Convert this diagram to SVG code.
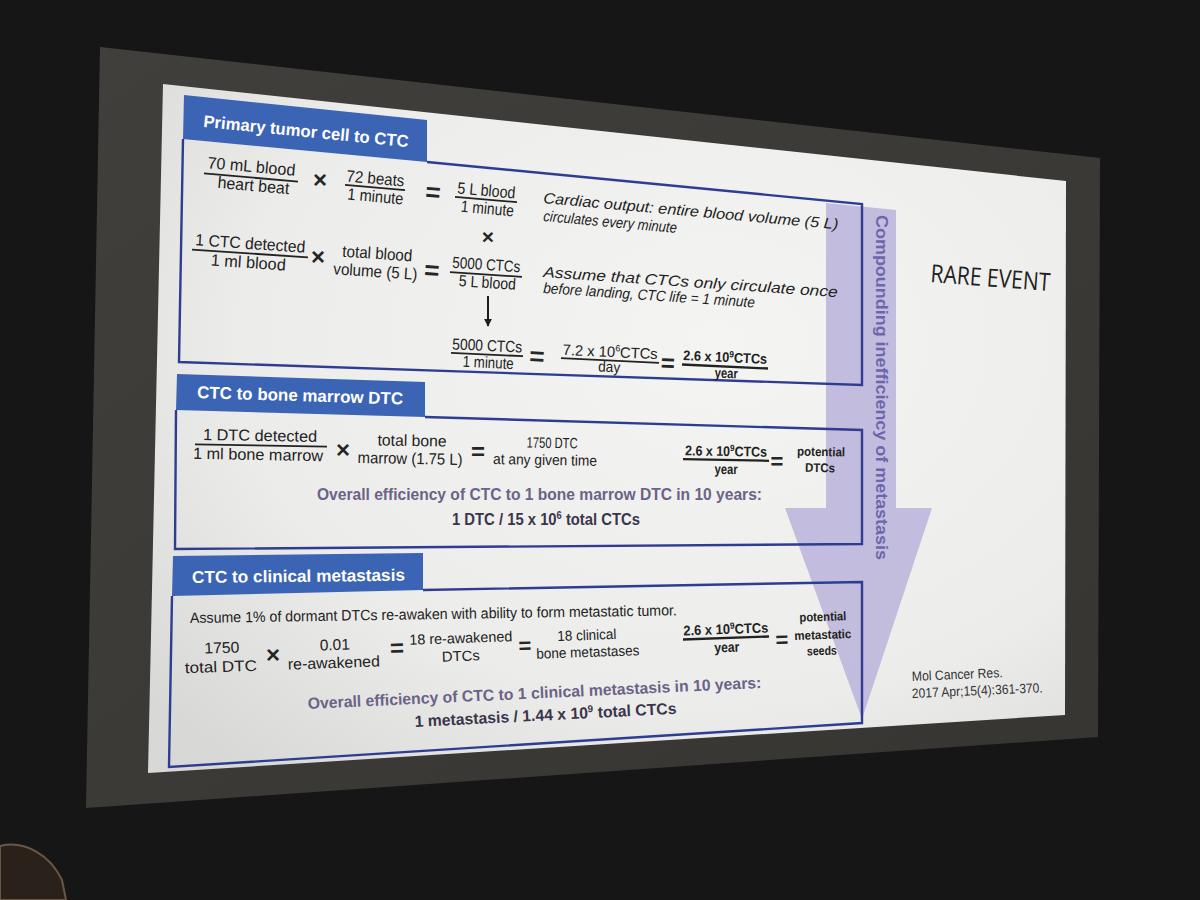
<svg xmlns="http://www.w3.org/2000/svg" width="1200" height="900" viewBox="0 0 1200 900">
<defs>
  <radialGradient id="slideG" cx="0.62" cy="0.38" r="0.8">
    <stop offset="0" stop-color="#f4f4f2"/>
    <stop offset="0.65" stop-color="#ececea"/>
    <stop offset="1" stop-color="#d8d8d7"/>
  </radialGradient>
  <linearGradient id="frameG" x1="0" y1="0" x2="1" y2="1">
    <stop offset="0" stop-color="#403f3c"/>
    <stop offset="1" stop-color="#363532"/>
  </linearGradient>
  <marker id="ah" viewBox="0 0 10 10" refX="9" refY="5" markerWidth="4" markerHeight="4" orient="auto">
    <path d="M0,0 L10,5 L0,10 Z" fill="#1e1e1e"/>
  </marker>
</defs>
<style>
  .t{font-family:"Liberation Sans",Arial,sans-serif;fill:#222222}
  .c{text-anchor:middle}
  .b{font-weight:bold}
  .i{font-style:italic}
  .tab{font-family:"Liberation Sans",Arial,sans-serif;font-weight:bold;fill:#ffffff;font-size:17px}
  .pur{font-family:"Liberation Sans",Arial,sans-serif;font-weight:bold;fill:#6b6387;font-size:16px}
  .dk{font-family:"Liberation Sans",Arial,sans-serif;font-weight:bold;fill:#3b354b;font-size:16px}
  .fl{stroke:#222222;stroke-width:1.8}
  .fb{stroke:#222222;stroke-width:2.3}
  .bx{fill:none;stroke:#2e3d92;stroke-width:2.4}
  .tb{fill:#3c64b4}
  .op{font-family:"Liberation Sans",Arial,sans-serif;font-weight:bold;fill:#262626;text-anchor:middle}
  .sm{font-family:"Liberation Sans",Arial,sans-serif;fill:#333333;font-size:13.5px}
</style>

<rect x="0" y="0" width="1200" height="900" fill="#161616"/>
<polygon points="100,47 1100,158 1098,737 86,808" fill="url(#frameG)"/>
<polygon points="163,84 1066,181 1065,715 148,773" fill="url(#slideG)"/>
<path d="M0,846 C25,840 50,855 62,880 L66,900 L0,900 Z" fill="#2a211b" stroke="#6b5646" stroke-width="2"/>

<g id="arrow-compounding">
  <polygon points="826,203 896,210 896,508 932,508 862,719 785,508 826,508" fill="#bcb6dc" opacity="0.9"/>
</g>

<g id="box-primary">
  <polygon class="tb" points="184,95 427,120 427,162 183,139"/>
  <polyline class="bx" points="427,162 862,204 862,385 179,362 183,139"/>
  <text class="tab" x="203" y="127" textLength="206" lengthAdjust="spacingAndGlyphs" transform="rotate(5.6 203 127)">Primary tumor cell to CTC</text>

  <text class="t c" x="251" y="172" font-size="16.5" textLength="88" lengthAdjust="spacingAndGlyphs" transform="rotate(5 251 172)">70 mL blood</text>
  <line class="fl" x1="204" y1="173.4" x2="298" y2="181.6"/>
  <text class="t c" x="253" y="191" font-size="16.5" textLength="72" lengthAdjust="spacingAndGlyphs" transform="rotate(5 253 191)">heart beat</text>
  <text class="op" x="320" y="188" font-size="24">×</text>
  <text class="t c" x="375" y="184" font-size="16.5" textLength="58" lengthAdjust="spacingAndGlyphs" transform="rotate(5 375 184)">72 beats</text>
  <line class="fl" x1="345" y1="184.9" x2="405" y2="190.1"/>
  <text class="t c" x="375" y="202" font-size="16.5" textLength="56" lengthAdjust="spacingAndGlyphs" transform="rotate(5 375 202)">1 minute</text>
  <text class="op" x="433" y="201" font-size="26" transform="rotate(5 433 192)">=</text>
  <text class="t c" x="486" y="196" font-size="16.5" textLength="58" lengthAdjust="spacingAndGlyphs" transform="rotate(5 486 196)">5 L blood</text>
  <line class="fl" x1="455" y1="196.8" x2="517" y2="202.2"/>
  <text class="t c" x="487" y="214" font-size="16.5" textLength="53" lengthAdjust="spacingAndGlyphs" transform="rotate(5 487 214)">1 minute</text>
  <text class="t i" x="543" y="203" font-size="15" textLength="296" lengthAdjust="spacingAndGlyphs" transform="rotate(5.1 543 203)">Cardiac output: entire blood volume (5 L)</text>
  <text class="t i" x="543" y="221" font-size="15" textLength="134" lengthAdjust="spacingAndGlyphs" transform="rotate(5.1 543 221)">circulates every minute</text>
  <text class="op" x="488" y="244" font-size="21">×</text>

  <text class="t c" x="250" y="249" font-size="16.5" textLength="110" lengthAdjust="spacingAndGlyphs" transform="rotate(3.8 250 249)">1 CTC detected</text>
  <line class="fl" x1="192" y1="249.7" x2="308" y2="257.3"/>
  <text class="t c" x="248" y="268" font-size="16.5" textLength="75" lengthAdjust="spacingAndGlyphs" transform="rotate(3.8 248 268)">1 ml blood</text>
  <text class="op" x="318" y="265" font-size="24">×</text>
  <text class="t c" x="377" y="259" font-size="16.5" textLength="70" lengthAdjust="spacingAndGlyphs" transform="rotate(3.8 377 259)">total blood</text>
  <text class="t c" x="375" y="277" font-size="16.5" textLength="84" lengthAdjust="spacingAndGlyphs" transform="rotate(3.8 375 277)">volume (5 L)</text>
  <text class="op" x="432" y="279" font-size="26" transform="rotate(3.8 432 270)">=</text>
  <text class="t c" x="486" y="270" font-size="16" textLength="68" lengthAdjust="spacingAndGlyphs" transform="rotate(3.8 486 270)">5000 CTCs</text>
  <line class="fl" x1="450" y1="272.1" x2="522" y2="276.9"/>
  <text class="t c" x="487" y="288" font-size="16" textLength="57" lengthAdjust="spacingAndGlyphs" transform="rotate(3.8 487 288)">5 L blood</text>
  <text class="t i" x="543" y="277" font-size="15" textLength="295" lengthAdjust="spacingAndGlyphs" transform="rotate(3.9 543 277)">Assume that CTCs only circulate once</text>
  <text class="t i" x="543" y="293" font-size="15" textLength="212" lengthAdjust="spacingAndGlyphs" transform="rotate(3.9 543 293)">before landing, CTC life = 1 minute</text>

  <text class="t c" x="487" y="351" font-size="16" textLength="70" lengthAdjust="spacingAndGlyphs" transform="rotate(2.6 487 351)">5000 CTCs</text>
  <line class="fl" x1="451" y1="352.8" x2="523" y2="356.2"/>
  <text class="t c" x="488" y="368" font-size="16" textLength="51" lengthAdjust="spacingAndGlyphs" transform="rotate(2.6 488 368)">1 minute</text>
  <text class="op" x="537" y="365" font-size="26" transform="rotate(2.6 537 356)">=</text>
  <text class="t c" x="610" y="357" font-size="15" textLength="95" lengthAdjust="spacingAndGlyphs" transform="rotate(2.6 610 357)"><tspan>7.2 x 10</tspan><tspan font-size="9" dy="-6">6</tspan><tspan dy="6">CTCs</tspan></text>
  <line class="fl" x1="561" y1="358.2" x2="659" y2="362.8"/>
  <text class="t c" x="609" y="372" font-size="15" textLength="22" lengthAdjust="spacingAndGlyphs" transform="rotate(2.6 609 372)">day</text>
  <text class="op" x="668" y="371" font-size="24" transform="rotate(2.6 668 362)">=</text>
  <text class="t c b" x="725" y="362" font-size="14" textLength="84" lengthAdjust="spacingAndGlyphs" transform="rotate(2.6 725 362)"><tspan>2.6 x 10</tspan><tspan font-size="9" dy="-5">9</tspan><tspan dy="5">CTCs</tspan></text>
  <line class="fb" x1="682" y1="364.5" x2="768" y2="368.5"/>
  <text class="t c b" x="726" y="378" font-size="14" textLength="23" lengthAdjust="spacingAndGlyphs" transform="rotate(2.6 726 378)">year</text>
</g>

<g id="box-bone">
  <polygon class="tb" points="177,374 425,382 425,417 176,410"/>
  <polyline class="bx" points="425,417 862,430 862,544 175,549 176,410"/>
  <text class="tab" x="197" y="398" textLength="206" lengthAdjust="spacingAndGlyphs" transform="rotate(1.8 197 398)">CTC to bone marrow DTC</text>

  <text class="t c" x="260" y="441" font-size="16" textLength="114" lengthAdjust="spacingAndGlyphs" transform="rotate(1 260 441)">1 DTC detected</text>
  <line class="fl" x1="195" y1="444.3" x2="327" y2="446.7"/>
  <text class="t c" x="258" y="460" font-size="16" textLength="130" lengthAdjust="spacingAndGlyphs" transform="rotate(1 258 460)">1 ml bone marrow</text>
  <text class="op" x="343" y="458" font-size="24">×</text>
  <text class="t c" x="412" y="446" font-size="16" textLength="69" lengthAdjust="spacingAndGlyphs" transform="rotate(1 412 446)">total bone</text>
  <text class="t c" x="410" y="464" font-size="16" textLength="105" lengthAdjust="spacingAndGlyphs" transform="rotate(1 410 464)">marrow (1.75 L)</text>
  <text class="op" x="478" y="460" font-size="24">=</text>
  <text class="t c" x="552" y="448" font-size="15" textLength="51" lengthAdjust="spacingAndGlyphs" transform="rotate(1 552 448)">1750 DTC</text>
  <text class="t c" x="545" y="465" font-size="15" textLength="104" lengthAdjust="spacingAndGlyphs" transform="rotate(1 545 465)">at any given time</text>
  <text class="t c b" x="726" y="456" font-size="14" textLength="82" lengthAdjust="spacingAndGlyphs" transform="rotate(1 726 456)"><tspan>2.6 x 10</tspan><tspan font-size="9" dy="-5">9</tspan><tspan dy="5">CTCs</tspan></text>
  <line class="fb" x1="683" y1="459.2" x2="769" y2="460.8"/>
  <text class="t c b" x="726" y="474" font-size="14" textLength="23" lengthAdjust="spacingAndGlyphs" transform="rotate(1 726 474)">year</text>
  <text class="op" x="777" y="469" font-size="22">=</text>
  <text class="t c b" x="821" y="456" font-size="12.5" textLength="48" lengthAdjust="spacingAndGlyphs" transform="rotate(1 821 456)">potential</text>
  <text class="t c b" x="820" y="472" font-size="12.5" textLength="30" lengthAdjust="spacingAndGlyphs" transform="rotate(1 820 472)">DTCs</text>
  <text class="pur" x="317" y="500" textLength="445" lengthAdjust="spacingAndGlyphs">Overall efficiency of CTC to 1 bone marrow DTC in 10 years:</text>
  <text class="dk" x="452" y="525" textLength="188" lengthAdjust="spacingAndGlyphs"><tspan>1 DTC / 15  x 10</tspan><tspan font-size="10" dy="-6">6</tspan><tspan dy="6"> total CTCs</tspan></text>
</g>

<g id="box-clinical">
  <polygon class="tb" points="173,556 423,553 423,590 172,596"/>
  <polyline class="bx" points="423,590 862,582 862,723 169,767 172,596"/>
  <text class="tab" x="192" y="583" textLength="213" lengthAdjust="spacingAndGlyphs" transform="rotate(-0.6 192 583)">CTC to clinical metastasis</text>
  <text class="t" x="190" y="623" font-size="15" textLength="487" lengthAdjust="spacingAndGlyphs" transform="rotate(-0.9 190 623)">Assume 1% of dormant DTCs re-awaken with ability to form metastatic tumor.</text>

  <text class="t c" x="222" y="653" font-size="15.5" textLength="35" lengthAdjust="spacingAndGlyphs" transform="rotate(-2 222 653)">1750</text>
  <text class="t c" x="221" y="672" font-size="15.5" textLength="72" lengthAdjust="spacingAndGlyphs" transform="rotate(-2 221 672)">total DTC</text>
  <text class="op" x="273" y="663" font-size="24">×</text>
  <text class="t c" x="335" y="650" font-size="15.5" textLength="30" lengthAdjust="spacingAndGlyphs" transform="rotate(-2 335 650)">0.01</text>
  <text class="t c" x="334" y="668" font-size="15.5" textLength="92" lengthAdjust="spacingAndGlyphs" transform="rotate(-2 334 668)">re-awakened</text>
  <text class="op" x="397" y="656" font-size="24" transform="rotate(-2 397 648)">=</text>
  <text class="t c" x="461" y="643" font-size="14.5" textLength="103" lengthAdjust="spacingAndGlyphs" transform="rotate(-2 461 643)">18 re-awakened</text>
  <text class="t c" x="461" y="661" font-size="14.5" textLength="38" lengthAdjust="spacingAndGlyphs" transform="rotate(-2 461 661)">DTCs</text>
  <text class="op" x="525" y="653" font-size="22" transform="rotate(-2 525 645)">=</text>
  <text class="t c" x="587" y="640" font-size="14.5" textLength="59" lengthAdjust="spacingAndGlyphs" transform="rotate(-2 587 640)">18 clinical</text>
  <text class="t c" x="588" y="657" font-size="14.5" textLength="103" lengthAdjust="spacingAndGlyphs" transform="rotate(-2 588 657)">bone metastases</text>
  <text class="t c b" x="726" y="634" font-size="14" textLength="85" lengthAdjust="spacingAndGlyphs" transform="rotate(-2 726 634)"><tspan>2.6 x 10</tspan><tspan font-size="9" dy="-5">9</tspan><tspan dy="5">CTCs</tspan></text>
  <line class="fb" x1="683" y1="639.5" x2="769" y2="636.5"/>
  <text class="t c b" x="727" y="652" font-size="14" textLength="25" lengthAdjust="spacingAndGlyphs" transform="rotate(-2 727 652)">year</text>
  <text class="op" x="782" y="647" font-size="22" transform="rotate(-2 782 639)">=</text>
  <text class="t c b" x="823" y="621" font-size="12.5" textLength="47" lengthAdjust="spacingAndGlyphs" transform="rotate(-2 823 621)">potential</text>
  <text class="t c b" x="823" y="639" font-size="12.5" textLength="57" lengthAdjust="spacingAndGlyphs" transform="rotate(-2 823 639)">metastatic</text>
  <text class="t c b" x="822" y="655" font-size="12.5" textLength="30" lengthAdjust="spacingAndGlyphs" transform="rotate(-2 822 655)">seeds</text>
  <text class="pur" x="308" y="709" textLength="454" lengthAdjust="spacingAndGlyphs" transform="rotate(-2.65 308 709)">Overall efficiency of CTC to 1 clinical metastasis in 10 years:</text>
  <text class="dk" x="415" y="727" textLength="262" lengthAdjust="spacingAndGlyphs" transform="rotate(-2.9 415 727)"><tspan>1 metastasis / 1.44 x 10</tspan><tspan font-size="10" dy="-6">9</tspan><tspan dy="6"> total CTCs</tspan></text>
</g>

<g id="connectors">
  <line x1="488" y1="296" x2="488" y2="326" stroke="#1e1e1e" stroke-width="2" marker-end="url(#ah)"/>
</g>

<g id="compounding-label">
  <text x="0" y="0" font-family="Liberation Sans, Arial, sans-serif" font-weight="bold" font-size="17" fill="#6e66aa" textLength="345" lengthAdjust="spacingAndGlyphs" transform="translate(876 215) rotate(90)">Compounding inefficiency of metastasis</text>
</g>

<g id="rare-event">
  <text x="930" y="282" font-family="Open Sans, Liberation Sans, sans-serif" font-size="25" fill="#222222" textLength="120" lengthAdjust="spacingAndGlyphs" transform="rotate(4.3 930 282)">RARE EVENT</text>
</g>

<g id="citation">
  <text class="sm" x="912" y="681" textLength="91" lengthAdjust="spacingAndGlyphs" transform="rotate(-2.5 912 681)">Mol Cancer Res.</text>
  <text class="sm" x="912" y="698" textLength="131" lengthAdjust="spacingAndGlyphs" transform="rotate(-2.5 912 698)">2017 Apr;15(4):361-370.</text>
</g>
</svg>
